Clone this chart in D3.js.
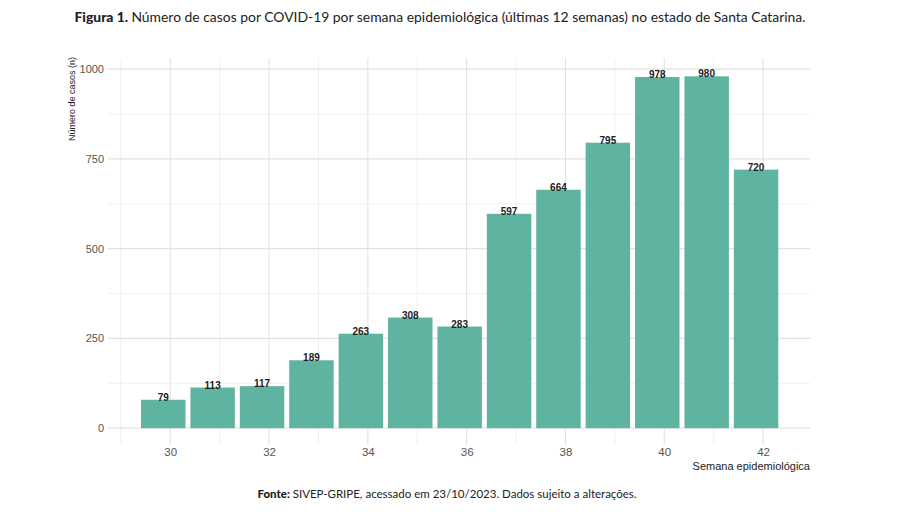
<!DOCTYPE html>
<html>
<head>
<meta charset="utf-8">
<script src="https://cdn.jsdelivr.net/npm/d3@7"></script>
<style>
  body { margin: 0; background: #fff; }
  svg { display: block; }
</style>
</head>
<body>
<div id="chart"></div>
<script>
// dados
var semanas = [30, 31, 32, 33, 34, 35, 36, 37, 38, 39, 40, 41, 42];
var casos = [79, 113, 117, 189, 263, 308, 283, 597, 664, 795, 978, 980, 720];
var xTicks = [30, 32, 34, 36, 38, 40, 42];
var yTicks = [0, 250, 500, 750, 1000];

var width = 900, height = 520;
var panel = { left: 108, right: 810, top: 58, bottom: 445 };
var barColor = '#5fb3a1';
var barShift = -7; // barras deslocadas em relação aos ticks na figura original

var svg = d3.select('#chart').append('svg')
  .attr('width', width).attr('height', height);

var xScale = d3.scaleLinear()
  .domain([28.74, 42.95])
  .range([panel.left, panel.right]);

var yScale = d3.scaleLinear()
  .domain([-47, 1031])
  .range([panel.bottom, panel.top]);

var bw = (xScale(31) - xScale(30)) * 0.9;

// grade menor
var g = svg.append('g');
var minorX = d3.range(29, 43, 2);
var minorY = d3.range(125, 1000, 250);
g.selectAll('.mx').data(minorX).enter().append('line')
  .attr('x1', function(d){ return xScale(d) }).attr('x2', function(d){ return xScale(d) })
  .attr('y1', panel.top).attr('y2', panel.bottom)
  .attr('stroke', '#ececec').attr('stroke-width', 0.8);
g.selectAll('.my').data(minorY).enter().append('line')
  .attr('x1', panel.left).attr('x2', panel.right)
  .attr('y1', function(d){ return yScale(d) }).attr('y2', function(d){ return yScale(d) })
  .attr('stroke', '#ececec').attr('stroke-width', 0.8);

// grade maior
g.selectAll('.Mx').data(xTicks).enter().append('line')
  .attr('x1', function(d){ return xScale(d) }).attr('x2', function(d){ return xScale(d) })
  .attr('y1', panel.top).attr('y2', panel.bottom)
  .attr('stroke', '#e2e2e2').attr('stroke-width', 1.1);
g.selectAll('.My').data(yTicks).enter().append('line')
  .attr('x1', panel.left).attr('x2', panel.right)
  .attr('y1', function(d){ return yScale(d) }).attr('y2', function(d){ return yScale(d) })
  .attr('stroke', '#e2e2e2').attr('stroke-width', 1.1);

// eixos (somente rótulos)
var yAxis = d3.axisLeft(yScale).tickValues(yTicks).tickFormat(d3.format('d')).tickSize(0).tickPadding(4);
svg.append('g')
  .attr('transform', 'translate(' + panel.left + ',0)')
  .call(yAxis)
  .call(function(s){ s.select('.domain').remove(); })
  .selectAll('text')
  .attr('font-family', 'Liberation Sans, Arial, sans-serif')
  .attr('font-size', 11).attr('fill', '#555');

var xAxis = d3.axisBottom(xScale).tickValues(xTicks).tickSize(0).tickPadding(3);
svg.append('g')
  .attr('transform', 'translate(0,' + panel.bottom + ')')
  .call(xAxis)
  .call(function(s){ s.select('.domain').remove(); })
  .selectAll('text')
  .attr('font-family', 'Liberation Sans, Arial, sans-serif')
  .attr('font-size', 11.5).attr('fill', '#555');

// barras
svg.append('g').selectAll('rect').data(casos).enter().append('rect')
  .attr('x', function(d, i){ return xScale(semanas[i]) + barShift - bw / 2 })
  .attr('y', function(d){ return yScale(d) })
  .attr('width', bw)
  .attr('height', function(d){ return yScale(0) - yScale(d) })
  .attr('fill', barColor);

// rótulos
svg.append('g').selectAll('text').data(casos).enter().append('text')
  .attr('x', function(d, i){ return xScale(semanas[i]) + barShift })
  .attr('y', function(d){ return yScale(d) + 1 })
  .attr('text-anchor', 'middle')
  .attr('font-family', 'Liberation Sans, Arial, sans-serif')
  .attr('font-size', 10).attr('font-weight', 'bold').attr('fill', '#222')
  .text(function(d){ return d });

// títulos dos eixos
svg.append('text')
  .attr('transform', 'translate(75,57) rotate(-90)')
  .attr('text-anchor', 'end')
  .attr('font-family', 'Liberation Sans Narrow, Liberation Sans, sans-serif')
  .attr('font-size', 9).attr('fill', '#222')
  .text('Número de casos (n)');

svg.append('text')
  .attr('x', panel.right).attr('y', 470)
  .attr('text-anchor', 'end')
  .attr('font-family', 'Liberation Sans Narrow, Liberation Sans, sans-serif')
  .attr('font-size', 11).attr('fill', '#222')
  .text('Semana epidemiológica');

// título
var title = svg.append('text')
  .attr('x', 440).attr('y', 22)
  .attr('text-anchor', 'middle')
  .attr('font-family', 'Lato, sans-serif')
  .attr('font-size', 13.9).attr('fill', '#222');
title.append('tspan').attr('font-weight', 900).text('Figura 1. ');
title.append('tspan').text('Número de casos por COVID-19 por semana epidemiológica (últimas 12 semanas) no estado de Santa Catarina.');

// fonte
var fonte = svg.append('text')
  .attr('x', 447).attr('y', 498)
  .attr('text-anchor', 'middle')
  .attr('font-family', 'Lato, sans-serif')
  .attr('font-size', 11.5).attr('fill', '#222');
fonte.append('tspan').attr('font-weight', 900).text('Fonte: ');
fonte.append('tspan').text('SIVEP-GRIPE, acessado em 23/10/2023. Dados sujeito a alterações.');
</script>
</body>
</html>
